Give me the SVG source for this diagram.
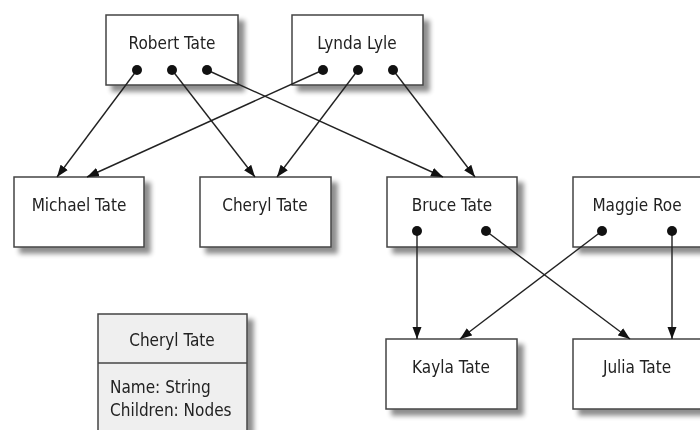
<svg xmlns="http://www.w3.org/2000/svg" width="700" height="430" viewBox="0 0 700 430">
<defs>
<filter id="sh" x="-20%" y="-20%" width="150%" height="160%">
<feGaussianBlur in="SourceAlpha" stdDeviation="2.5"/>
<feOffset dx="6" dy="6" result="b"/>
<feComponentTransfer><feFuncA type="linear" slope="0.45"/></feComponentTransfer>
<feMerge><feMergeNode/><feMergeNode in="SourceGraphic"/></feMerge>
</filter>
<marker id="ah" viewBox="0 0 12 10" refX="12" refY="5" markerWidth="12" markerHeight="10" markerUnits="userSpaceOnUse" orient="auto">
<path d="M0,0.5 L12,5 L0,9.5 Z" fill="#111"/>
</marker>
<marker id="dot" viewBox="0 0 10 10" refX="5" refY="5" markerWidth="10" markerHeight="10" markerUnits="userSpaceOnUse">
<circle cx="5" cy="5" r="5" fill="#111"/>
</marker>
</defs>
<style>
.box{fill:#fff;stroke:#444;stroke-width:1.5}
.lg{fill:#efefef;stroke:#444;stroke-width:1.5}
text{font-family:"Liberation Sans Narrow","DejaVu Sans Condensed","Liberation Sans",sans-serif;font-size:17px;fill:#222}
.c{text-anchor:middle}
.edge{stroke:#222;stroke-width:1.4;fill:none;marker-start:url(#dot);marker-end:url(#ah)}
</style>
<rect width="700" height="430" fill="#fff"/>
<g id="robert" filter="url(#sh)"><rect class="box" x="106" y="15" width="132" height="70"/><text class="c" x="172" y="49">Robert Tate</text></g>
<g id="lynda" filter="url(#sh)"><rect class="box" x="292" y="15" width="131" height="70"/><text class="c" x="357" y="49">Lynda Lyle</text></g>
<g id="michael" filter="url(#sh)"><rect class="box" x="14" y="177" width="130" height="70"/><text class="c" x="79" y="211">Michael Tate</text></g>
<g id="cheryl" filter="url(#sh)"><rect class="box" x="200" y="177" width="131" height="70"/><text class="c" x="265" y="211">Cheryl Tate</text></g>
<g id="bruce" filter="url(#sh)"><rect class="box" x="387" y="177" width="130" height="70"/><text class="c" x="452" y="211">Bruce Tate</text></g>
<g id="maggie" filter="url(#sh)"><rect class="box" x="573" y="177" width="128" height="70"/><text class="c" x="637" y="211">Maggie Roe</text></g>
<g id="kayla" filter="url(#sh)"><rect class="box" x="386" y="339" width="131" height="70"/><text class="c" x="451" y="373">Kayla Tate</text></g>
<g id="julia" filter="url(#sh)"><rect class="box" x="573" y="339" width="128" height="70"/><text class="c" x="637" y="373">Julia Tate</text></g>
<g id="legend" filter="url(#sh)"><rect class="lg" x="98" y="314" width="149" height="130"/><line x1="98" y1="363" x2="247" y2="363" stroke="#444" stroke-width="1.5"/><text class="c" x="172" y="346">Cheryl Tate</text><text x="110" y="393">Name: String</text><text x="110" y="416">Children: Nodes</text></g>
<g id="connectors">
<line class="edge" x1="137" y1="70" x2="57" y2="177"/>
<line class="edge" x1="172" y1="70" x2="255" y2="177"/>
<line class="edge" x1="207" y1="70" x2="443" y2="177"/>
<line class="edge" x1="323" y1="70" x2="87" y2="177"/>
<line class="edge" x1="358" y1="70" x2="277" y2="177"/>
<line class="edge" x1="393" y1="70" x2="475" y2="177"/>
<line class="edge" x1="417" y1="231" x2="417" y2="339"/>
<line class="edge" x1="486" y1="231" x2="630" y2="339"/>
<line class="edge" x1="602" y1="231" x2="460" y2="339"/>
<line class="edge" x1="672" y1="231" x2="672" y2="339"/>
</g>
</svg>
